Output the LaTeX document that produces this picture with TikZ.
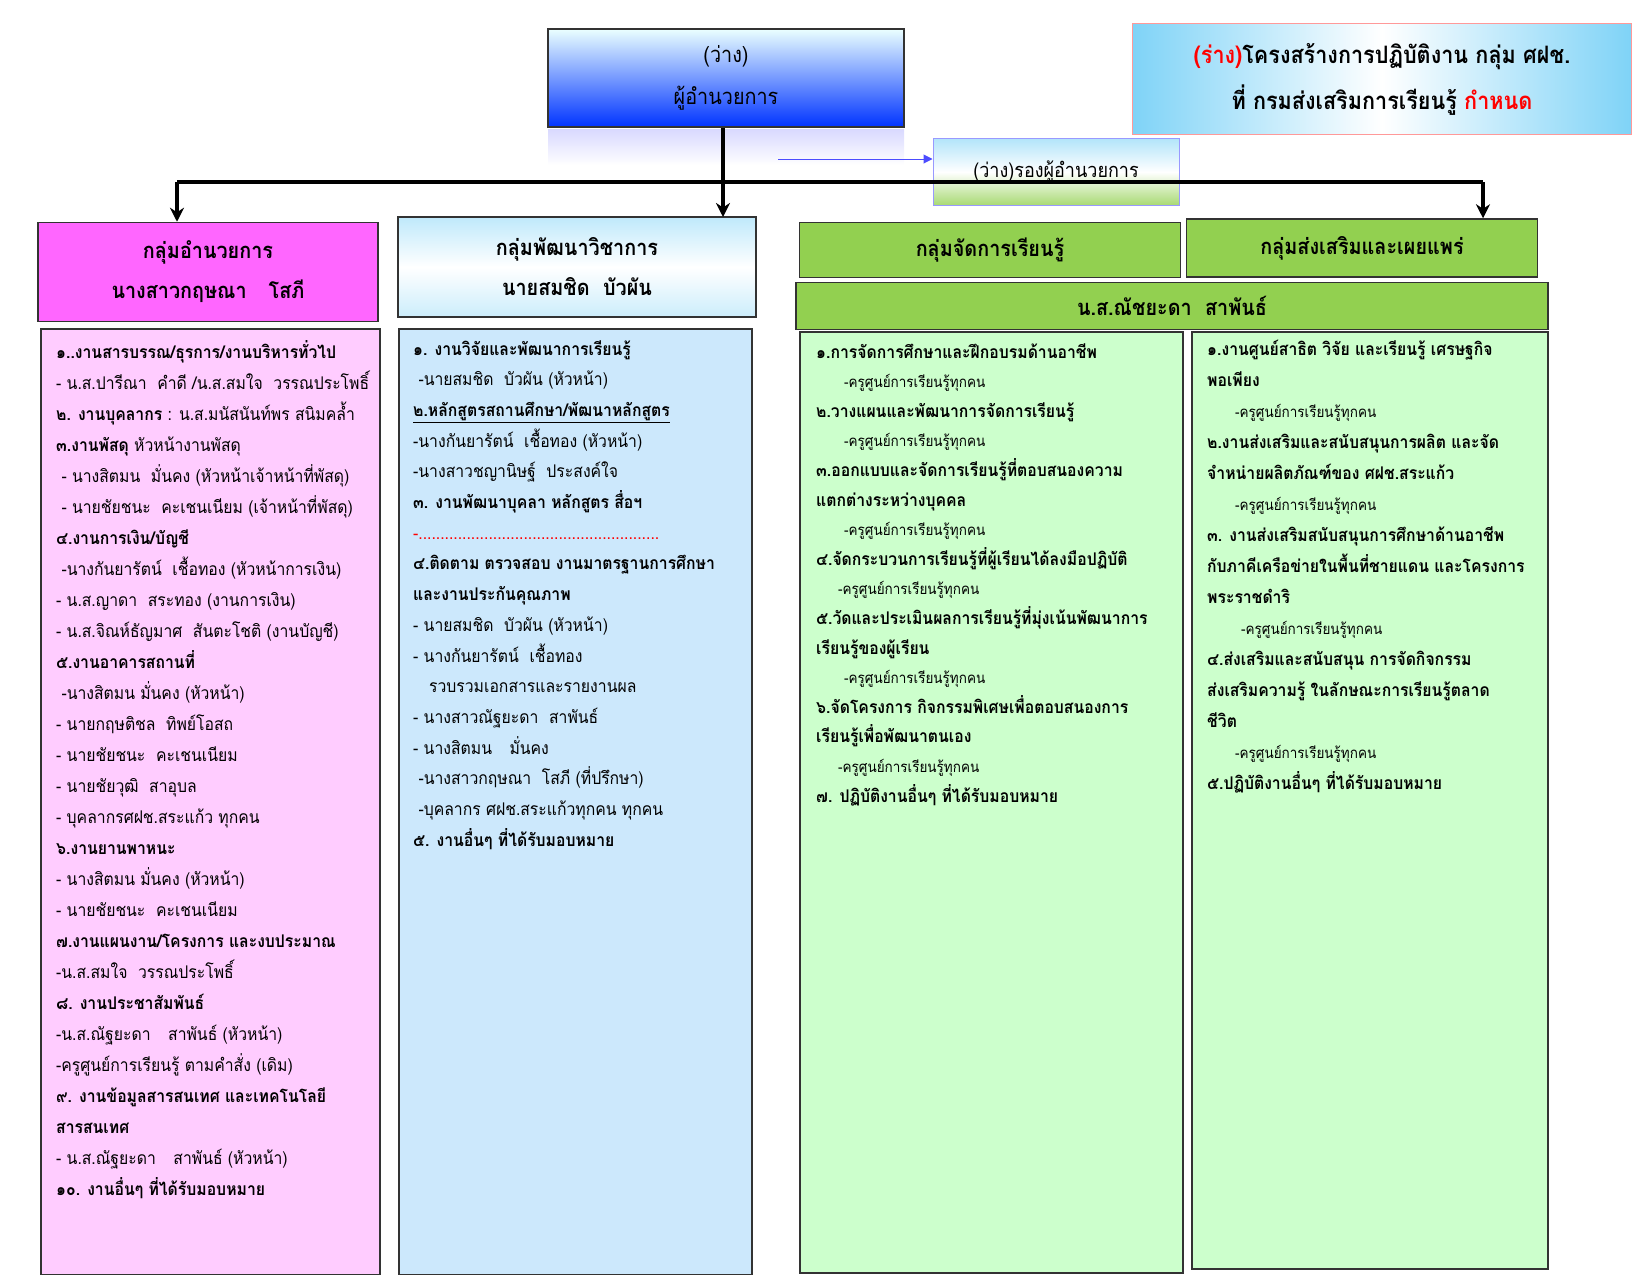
\documentclass[tikz,border=0pt]{standalone}
\usepackage{fontspec}
\setmainfont{Loma}[Script=Thai,FakeStretch=0.9]
\usetikzlibrary{positioning,arrows.meta}
\definecolor{magh}{HTML}{FF66FF}
\definecolor{pinkb}{HTML}{FFCCFF}
\definecolor{blueb}{HTML}{CCE8FC}
\definecolor{greenh}{HTML}{92D050}
\definecolor{greenb}{HTML}{CCFFCC}
\definecolor{skyb}{HTML}{7FD3F7}
\tikzset{
  box/.style={draw=black!80,line width=1.5pt,inner sep=0pt},
  head/.style={box,align=center,font=\fontsize{22}{40}\selectfont\bfseries},
  body/.style={box,anchor=north west},
  txt/.style={anchor=north west,align=left,inner sep=0pt},
  arr/.style={line width=4pt,-{Stealth[length=14pt,width=14pt]}},
  bus/.style={line width=4pt}
}
\begin{document}
\begin{tikzpicture}[x=1pt,y=-1pt]
\useasboundingbox (0,0) rectangle (1650,1275);
% top boxes
\node[box,top color=cyan!8,bottom color=blue!80!cyan,minimum width=356pt,minimum height=98pt,align=center,
  font=\fontsize{22}{42}\selectfont] (dir) at (726,78) {(ว่าง)\\ผู้อำนวยการ};
\shade[top color=blue!30,bottom color=white,opacity=0.5] (548,129) rectangle (904,165);
\node[draw=red!40,line width=1.5pt,left color=skyb,right color=skyb,middle color=white,minimum width=499pt,
  minimum height=111pt,align=center,font=\fontsize{24}{46}\selectfont\bfseries] (title) at (1382,79)
  {\textcolor{red}{(ร่าง)}โครงสร้างการปฏิบัติงาน กลุ่ม ศฝช.\\ที่ กรมส่งเสริมการเรียนรู้ \textcolor{red}{กำหนด}};
\node[draw=blue!40,line width=1pt,top color=skyb!60,bottom color=greenh!80,middle color=white,
  minimum width=246pt,minimum height=67pt,font=\fontsize{20}{24}\selectfont] (dep) at (1056,172) {(ว่าง)รองผู้อำนวยการ};
% group headers
\node[head,fill=magh,minimum width=340pt,minimum height=99pt] (g1) at (208,272) {กลุ่มอำนวยการ\\นางสาวกฤษณา\quad โสภี};
\node[head,top color=skyb!50,bottom color=skyb!40,middle color=white,minimum width=358pt,minimum height=100pt] (g2) at (577,267)
  {กลุ่มพัฒนาวิชาการ\\นายสมชิด\ \ บัวผัน};
\node[head,fill=greenh,minimum width=381pt,minimum height=55pt] (g3) at (990,250) {กลุ่มจัดการเรียนรู้};
\node[head,fill=greenh,minimum width=351pt,minimum height=58pt] (g4) at (1362,248) {กลุ่มส่งเสริมและเผยแพร่};
\node[head,fill=greenh,minimum width=752pt,minimum height=47pt] (nm) at (1172,306) {น.ส.ณัชยะดา\ \ สาพันธ์};
% connectors
\coordinate (bw) at (177,182);
\coordinate (be) at (1483,182);
\draw[bus] (bw) -- (be);
\draw[arr] (bw) -- (bw |- g1.north);
\draw[arr] (dir.south -| 723,0) -- (723,217);
\draw[arr] (be) -- (be |- g4.north);
\draw[blue!70,line width=1pt,-{Triangle[length=9pt,width=9pt]}] (778,159) -- (dep.west |- 0,159);
% bodies
\node[body,fill=pinkb,minimum width=339pt,minimum height=946pt] (b1) at (40,328) {};
\node[body,fill=blueb,minimum width=353pt,minimum height=946pt] (b2) at (398,328) {};
\node[body,fill=greenb,minimum width=383pt,minimum height=941pt] (b3) at (799,331) {};
\node[body,fill=greenb,minimum width=356pt,minimum height=937pt] (b4) at (1191,331) {};
\node[txt,font=\fontsize{17.5}{31}\selectfont] (t1) at ([shift={(16,12)}]b1.north west) {%
\textbf{๑..งานสารบรรณ/ธุรการ/งานบริหารทั่วไป}\\
- น.ส.ปารีณา\ \ คำดี /น.ส.สมใจ\ \ วรรณประโพธิ์\\
\textbf{๒. งานบุคลากร} : น.ส.มนัสนันท์พร สนิมคล้ำ\\
\textbf{๓.งานพัสดุ} หัวหน้างานพัสดุ\\
\ - นางสิตมน\ \ มั่นคง (หัวหน้าเจ้าหน้าที่พัสดุ)\\
\ - นายชัยชนะ\ \ คะเชนเนียม (เจ้าหน้าที่พัสดุ)\\
\textbf{๔.งานการเงิน/บัญชี}\\
\ -นางกันยารัตน์\ \ เชื้อทอง (หัวหน้าการเงิน)\\
- น.ส.ญาดา\ \ สระทอง (งานการเงิน)\\
- น.ส.จิณห์ธัญมาศ\ \ สันตะโชติ (งานบัญชี)\\
\textbf{๕.งานอาคารสถานที่}\\
\ -นางสิตมน มั่นคง (หัวหน้า)\\
- นายกฤษติชล\ \ ทิพย์โอสถ\\
- นายชัยชนะ\ \ คะเชนเนียม\\
- นายชัยวุฒิ\ \ สาอุบล\\
- บุคลากรศฝช.สระแก้ว ทุกคน\\
\textbf{๖.งานยานพาหนะ}\\
- นางสิตมน มั่นคง (หัวหน้า)\\
- นายชัยชนะ\ \ คะเชนเนียม\\
\textbf{๗.งานแผนงาน/โครงการ และงบประมาณ}\\
-น.ส.สมใจ\ \ วรรณประโพธิ์\\
\textbf{๘. งานประชาสัมพันธ์}\\
-น.ส.ณัฐยะดา\quad สาพันธ์ (หัวหน้า)\\
-ครูศูนย์การเรียนรู้ ตามคำสั่ง (เดิม)\\
\textbf{๙. งานข้อมูลสารสนเทศ และเทคโนโลยี}\\
\textbf{สารสนเทศ}\\
- น.ส.ณัฐยะดา\quad สาพันธ์ (หัวหน้า)\\
\textbf{๑๐. งานอื่นๆ ที่ได้รับมอบหมาย}};
\node[txt,font=\fontsize{17.5}{30.7}\selectfont] (t2) at ([shift={(15,12)}]b2.north west) {%
\textbf{๑. งานวิจัยและพัฒนาการเรียนรู้}\\
\ -นายสมชิด\ \ บัวผัน (หัวหน้า)\\
\textbf{\underline{๒.หลักสูตรสถานศึกษา/พัฒนาหลักสูตร}}\\
-นางกันยารัตน์\ \ เชื้อทอง (หัวหน้า)\\
-นางสาวชญานิษฐ์\ \ ประสงค์ใจ\\
\textbf{๓. งานพัฒนาบุคลา หลักสูตร สื่อฯ}\\
\textcolor{red}{-.......................................................}\\
\textbf{๔.ติดตาม ตรวจสอบ งานมาตรฐานการศึกษา}\\
\textbf{และงานประกันคุณภาพ}\\
- นายสมชิด\ \ บัวผัน (หัวหน้า)\\
- นางกันยารัตน์\ \ เชื้อทอง\\
\ \ \ รวบรวมเอกสารและรายงานผล\\
- นางสาวณัฐยะดา\ \ สาพันธ์\\
- นางสิตมน\quad มั่นคง\\
\ -นางสาวกฤษณา\ \ โสภี (ที่ปรึกษา)\\
\ -บุคลากร ศฝช.สระแก้วทุกคน ทุกคน\\
\textbf{๕. งานอื่นๆ ที่ได้รับมอบหมาย}};
\newcommand\kru[1][28pt]{\hspace*{#1}{\fontsize{15}{29.6}\selectfont -ครูศูนย์การเรียนรู้ทุกคน}}
\node[txt,font=\fontsize{17.5}{29.6}\selectfont] (t3) at ([shift={(17,12)}]b3.north west) {%
\textbf{๑.การจัดการศึกษาและฝึกอบรมด้านอาชีพ}\\
\kru\\
\textbf{๒.วางแผนและพัฒนาการจัดการเรียนรู้}\\
\kru\\
\textbf{๓.ออกแบบและจัดการเรียนรู้ที่ตอบสนองความ}\\
\textbf{แตกต่างระหว่างบุคคล}\\
\kru\\
\textbf{๔.จัดกระบวนการเรียนรู้ที่ผู้เรียนได้ลงมือปฏิบัติ}\\
\kru[22pt]\\
\textbf{๕.วัดและประเมินผลการเรียนรู้ที่มุ่งเน้นพัฒนาการ}\\
\textbf{เรียนรู้ของผู้เรียน}\\
\kru\\
\textbf{๖.จัดโครงการ กิจกรรมพิเศษเพื่อตอบสนองการ}\\
\textbf{เรียนรู้เพื่อพัฒนาตนเอง}\\
\kru[22pt]\\
\textbf{๗. ปฏิบัติงานอื่นๆ ที่ได้รับมอบหมาย}};
\node[txt,font=\fontsize{17.5}{31}\selectfont] (t4) at ([shift={(16,9)}]b4.north west) {%
\textbf{๑.งานศูนย์สาธิต วิจัย และเรียนรู้ เศรษฐกิจ}\\
\textbf{พอเพียง}\\
\kru\\
\textbf{๒.งานส่งเสริมและสนับสนุนการผลิต และจัด}\\
\textbf{จำหน่ายผลิตภัณฑ์ของ ศฝช.สระแก้ว}\\
\kru\\
\textbf{๓. งานส่งเสริมสนับสนุนการศึกษาด้านอาชีพ}\\
\textbf{กับภาคีเครือข่ายในพื้นที่ชายแดน และโครงการ}\\
\textbf{พระราชดำริ}\\
\kru[34pt]\\
\textbf{๔.ส่งเสริมและสนับสนุน การจัดกิจกรรม}\\
\textbf{ส่งเสริมความรู้ ในลักษณะการเรียนรู้ตลาด}\\
\textbf{ชีวิต}\\
\kru\\
\textbf{๕.ปฏิบัติงานอื่นๆ ที่ได้รับมอบหมาย}};
\end{tikzpicture}
\end{document}
